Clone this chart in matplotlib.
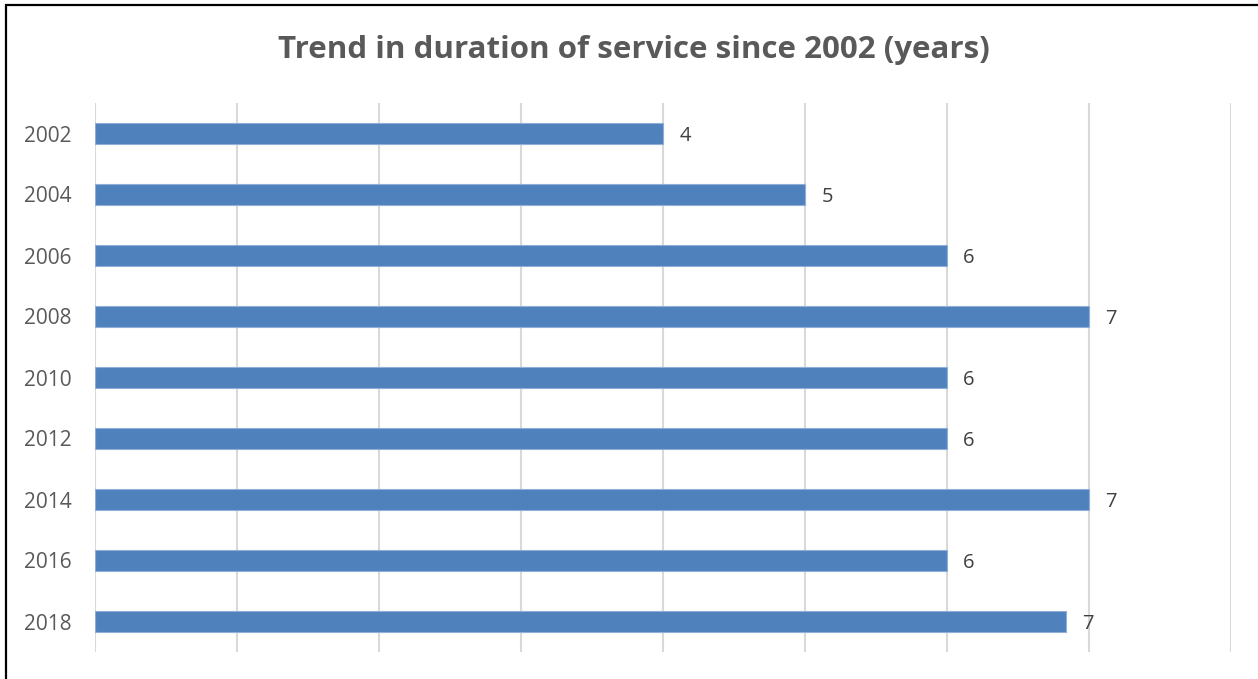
import matplotlib
matplotlib.use("Agg")
import matplotlib.pyplot as plt
from matplotlib.patches import Rectangle

years = ["2002", "2004", "2006", "2008", "2010", "2012", "2014", "2016", "2018"]
durations = [4, 5, 6, 7, 6, 6, 7, 6, 6.84]
labels = ["4", "5", "6", "7", "6", "6", "7", "6", "7"]
title = "Trend in duration of service since 2002 (years)"

plt.rcParams['font.family'] = ['Open Sans', 'DejaVu Sans']

W, H = 1258, 679
fig = plt.figure(figsize=(W / 100, H / 100), dpi=100)
ax = fig.add_axes([95 / W, 1 - 652 / H, (1231 - 95) / W, (652 - 103) / H])

y = list(range(len(years)))
ax.barh(y, durations, height=0.345, color="#4F81BD", edgecolor="#8FAFD8", linewidth=0.8, zorder=3)
for yi, v, lab in zip(y, durations, labels):
    ax.text(v + 0.115, yi + 0.045, lab, va="center", ha="left", fontsize=14.5, color="#404040")

ax.set_xlim(0, 8)
ax.set_ylim(len(years) - 0.5, -0.5)
ax.set_yticks(y)
ax.set_yticklabels(years, fontsize=15, color="#595959")
ax.set_xticks(range(0, 9))
ax.tick_params(axis="x", length=0, labelbottom=False)
ax.tick_params(axis="y", length=0, pad=17)
ax.grid(axis="x", color="#D9D9D9", linewidth=1.5, zorder=0)
for s in ax.spines.values():
    s.set_visible(False)

fig.text(634 / W, 1 - 50 / H, title, ha="center", va="center", fontsize=22.5,
         fontweight="bold", color="#595959")

fig.add_artist(Rectangle((6.5 / W, -0.1), 1.2, 1 - 5 / H + 0.1, transform=fig.transFigure,
                         fill=False, edgecolor="black", linewidth=1.6))

fig.savefig("out.png", dpi=100)
